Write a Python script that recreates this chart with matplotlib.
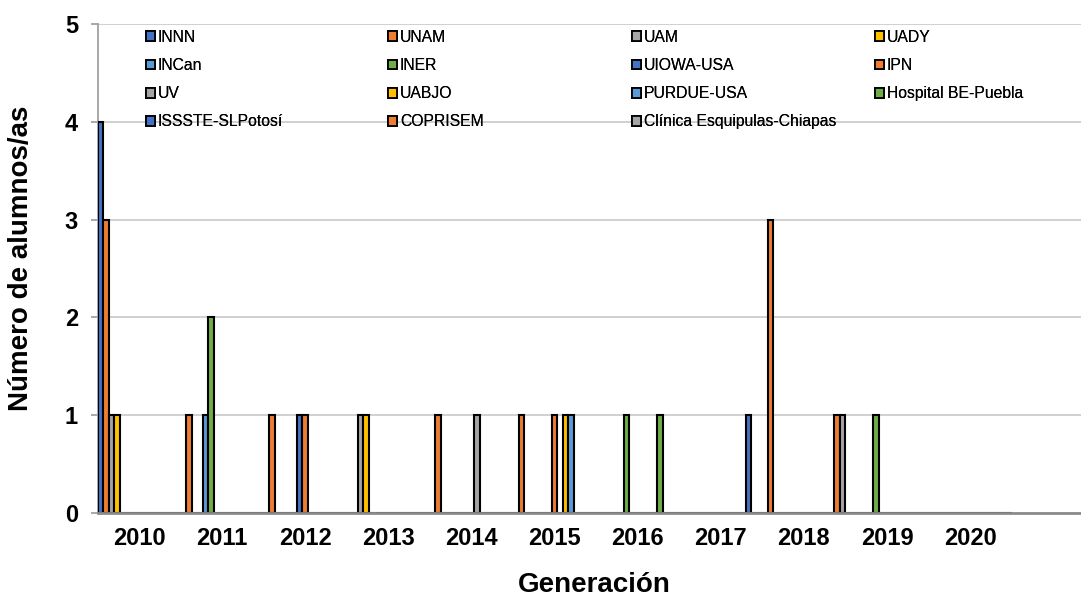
import matplotlib
matplotlib.use("Agg")
import matplotlib.pyplot as plt
from matplotlib.patches import Patch
import numpy as np

plt.rcParams['font.family'] = ['Liberation Sans', 'DejaVu Sans']

years = ['2010', '2011', '2012', '2013', '2014', '2015', '2016', '2017', '2018', '2019', '2020']

series_names = ['INNN', 'UNAM', 'UAM', 'UADY', 'INCan', 'INER', 'UIOWA-USA', 'IPN',
                'UV', 'UABJO', 'PURDUE-USA', 'Hospital BE-Puebla', 'ISSSTE-SLPotosí',
                'COPRISEM', 'Clínica Esquipulas-Chiapas']

# values per series, one per generation (2010..2020)
innn      = [4, 0, 0, 0, 0, 0, 0, 0, 0, 0, 0]
unam      = [3, 1, 1, 0, 1, 1, 0, 0, 3, 0, 0]
uam       = [1, 0, 0, 1, 0, 0, 0, 0, 0, 0, 0]
uady      = [1, 0, 0, 1, 0, 0, 0, 0, 0, 0, 0]
incan     = [0, 1, 0, 0, 0, 0, 0, 0, 0, 0, 0]
iner      = [0, 2, 0, 0, 0, 0, 1, 0, 0, 1, 0]
uiowa     = [0, 0, 1, 0, 0, 0, 0, 0, 0, 0, 0]
ipn       = [0, 0, 1, 0, 0, 1, 0, 0, 0, 0, 0]
uv        = [0, 0, 0, 0, 1, 0, 0, 0, 0, 0, 0]
uabjo     = [0, 0, 0, 0, 0, 1, 0, 0, 0, 0, 0]
purdue    = [0, 0, 0, 0, 0, 1, 0, 0, 0, 0, 0]
hosp_be   = [0, 0, 0, 0, 0, 0, 1, 0, 0, 0, 0]
issste    = [0, 0, 0, 0, 0, 0, 0, 1, 0, 0, 0]
coprisem  = [0, 0, 0, 0, 0, 0, 0, 0, 1, 0, 0]
clinica   = [0, 0, 0, 0, 0, 0, 0, 0, 1, 0, 0]

series_values = [innn, unam, uam, uady, incan, iner, uiowa, ipn, uv, uabjo,
                 purdue, hosp_be, issste, coprisem, clinica]

palette = ['#4472C4', '#ED7D31', '#A5A5A5', '#FFC000', '#5B9BD5', '#70AD47']
colors = [palette[i % 6] for i in range(len(series_names))]

W, H = 1081, 601
fig = plt.figure(figsize=(W / 100, H / 100), dpi=100)
ax_left, ax_bottom, ax_top = 97.5, 513, 24
ax = fig.add_axes([ax_left / W, 1 - ax_bottom / H, 1 - ax_left / W, (ax_bottom - ax_top) / H])

n = len(series_names)
bw = 1.0 / n
x = np.arange(len(years))
for s in range(n):
    vals = np.array(series_values[s], dtype=float)
    pos = x + (s - (n - 1) / 2) * bw
    ax.bar(pos, vals, width=bw, color=colors[s], edgecolor='black', linewidth=1.5, zorder=3)

cat_px = 83.1
ax.set_xlim(-0.5, -0.5 + (W - ax_left) / cat_px)
ax.set_ylim(0, 5)
ax.set_yticks([0, 1, 2, 3, 4, 5])
ax.set_xticks(x)
ax.set_xticklabels(years)

for lab in ax.get_xticklabels() + ax.get_yticklabels():
    lab.set_fontweight('bold')
    lab.set_fontsize(17)
ax.tick_params(axis='x', length=0, pad=10)
ax.tick_params(axis='y', length=5, width=1.2, color='#999999', pad=9)

ax.yaxis.grid(True, color='#c4c4c4', linewidth=1.1, zorder=0)
ax.set_axisbelow(True)
for sp in ['top', 'right']:
    ax.spines[sp].set_visible(False)
ax.spines['left'].set_color('#a0a0a0')
ax.spines['left'].set_linewidth(1.3)
ax.spines['bottom'].set_color('#8c8c8c')
ax.spines['bottom'].set_linewidth(2.0)
ax.spines['bottom'].set_zorder(4)

fig.text(21 / W, 1 - 258 / H, 'Número de alumnos/as', rotation=90, fontsize=20,
         fontweight='bold', ha='center', va='center')
fig.text(594 / W, 1 - 585 / H, 'Generación', fontsize=20, fontweight='bold',
         ha='center', va='center')

# legend laid out row-major in 4 equal columns
ncols = 4
col_px = [146, 388, 632, 875]
top_px = 30
for c in range(ncols):
    idx = list(range(c, n, ncols))
    handles = [Patch(facecolor=colors[i], edgecolor='black', linewidth=1.3) for i in idx]
    labels = [series_names[i] for i in idx]
    leg = fig.legend(handles, labels, loc='upper left',
                     bbox_to_anchor=(col_px[c] / W, 1 - top_px / H),
                     bbox_transform=fig.transFigure, frameon=False,
                     fontsize=11.3, handlelength=0.6, handleheight=0.6,
                     handletextpad=0.15, borderpad=0, borderaxespad=0,
                     labelspacing=0.83)
    fig.add_artist(leg)

fig.savefig('out.png', dpi=100)
